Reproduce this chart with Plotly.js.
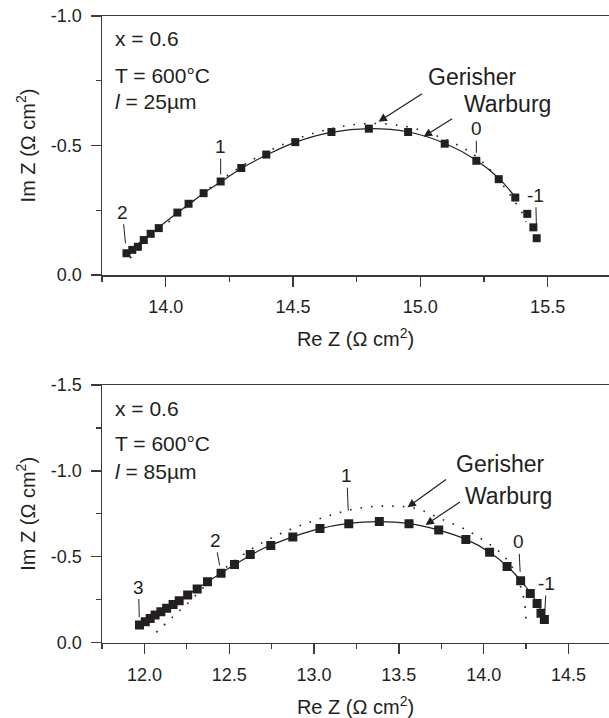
<!DOCTYPE html>
<html>
<head>
<meta charset="utf-8">
<script src="https://cdn.plot.ly/plotly-3.0.1.min.js"></script>
<style>html,body{margin:0;padding:0;background:#fff;overflow:hidden}#chart{width:609px;height:718px}</style>
</head>
<body>
<div id="chart"></div>
<script>
// ---------- Top panel (l = 25 µm) ----------
const topReZ = [13.846,13.869,13.891,13.914,13.941,13.973,14.046,14.090,14.149,14.216,14.297,14.395,14.509,14.651,14.798,14.952,15.096,15.220,15.308,15.373,15.420,15.444,15.457];
const topImZ = [-0.084,-0.097,-0.109,-0.135,-0.159,-0.181,-0.241,-0.275,-0.316,-0.361,-0.413,-0.465,-0.513,-0.552,-0.565,-0.552,-0.507,-0.441,-0.370,-0.299,-0.236,-0.184,-0.142];
const topWarburgX = [13.846,13.94,14.05,14.15,14.22,14.30,14.40,14.51,14.65,14.80,14.95,15.10,15.22,15.31,15.373];
const topWarburgY = [-0.084,-0.158,-0.243,-0.316,-0.362,-0.413,-0.465,-0.513,-0.551,-0.565,-0.553,-0.507,-0.443,-0.372,-0.300];
const topGerisherX = [13.86,13.95,14.05,14.20,14.35,14.50,14.65,14.80,14.95,15.07,15.16,15.22,15.28,15.33,15.37,15.40,15.415];
const topGerisherY = [-0.065,-0.148,-0.238,-0.355,-0.450,-0.520,-0.565,-0.585,-0.572,-0.535,-0.495,-0.458,-0.400,-0.340,-0.285,-0.240,-0.205];
const topFreqLabels = ['2','1','0','-1'];
const topFreqIdx = [0,9,17,22];

// ---------- Bottom panel (l = 85 µm) ----------
const botReZ = [11.971,12.005,12.034,12.063,12.097,12.131,12.169,12.205,12.255,12.311,12.372,12.452,12.531,12.624,12.745,12.875,13.035,13.205,13.385,13.560,13.735,13.895,14.035,14.138,14.218,14.275,14.315,14.338,14.358];
const botImZ = [-0.103,-0.122,-0.141,-0.161,-0.180,-0.200,-0.223,-0.244,-0.277,-0.312,-0.355,-0.404,-0.455,-0.514,-0.566,-0.615,-0.664,-0.693,-0.706,-0.693,-0.656,-0.601,-0.527,-0.444,-0.360,-0.287,-0.228,-0.171,-0.135];
const botWarburgX = [11.97,12.10,12.25,12.40,12.55,12.70,12.85,13.00,13.20,13.38,13.55,13.73,13.90,14.03,14.14,14.22,14.28,14.32,14.345,14.36];
const botWarburgY = [-0.100,-0.180,-0.275,-0.372,-0.465,-0.548,-0.607,-0.655,-0.694,-0.705,-0.695,-0.657,-0.600,-0.530,-0.445,-0.360,-0.285,-0.225,-0.170,-0.135];
const botGerisherX = [12.07,12.15,12.25,12.40,12.55,12.70,12.85,13.00,13.15,13.30,13.45,13.60,13.75,13.90,14.00,14.08,14.14,14.19,14.22,14.24,14.25];
const botGerisherY = [-0.060,-0.135,-0.225,-0.370,-0.490,-0.585,-0.655,-0.710,-0.758,-0.788,-0.795,-0.782,-0.720,-0.655,-0.595,-0.540,-0.480,-0.400,-0.320,-0.240,-0.130];
const botFreqLabels = ['3','2','1','0','-1'];
const botFreqIdx = [0,11,17,24,28];

// tick labels
const topXTicks = [14.0,14.5,15.0,15.5], topXTickText = ['14.0','14.5','15.0','15.5'];
const topYTicks = [-1.0,-0.5,0.0], topYTickText = ['-1.0','-0.5','0.0'];
const botXTicks = [12.0,12.5,13.0,13.5,14.0,14.5], botXTickText = ['12.0','12.5','13.0','13.5','14.0','14.5'];
const botYTicks = [-1.5,-1.0,-0.5,0.0], botYTickText = ['-1.5','-1.0','-0.5','0.0'];

// ---------- styling ----------
const INK = '#231f20', AX = '#3a3a3a';
const FONT = 'Liberation Sans, Arial, Helvetica, sans-serif';
const W = 609, H = 718;

function traces(xa, ya, rx, iz, wx, wy, gx, gy, msize) {
  return [
    {x: gx, y: gy, xaxis: xa, yaxis: ya, mode: 'lines', name: 'Gerisher',
     line: {color: INK, width: 1.6, dash: '1.6px,9px', shape: 'spline'}, showlegend: false},
    {x: wx, y: wy, xaxis: xa, yaxis: ya, mode: 'lines', name: 'Warburg',
     line: {color: INK, width: 1.2, shape: 'spline'}, showlegend: false},
    {x: rx, y: iz, xaxis: xa, yaxis: ya, mode: 'markers', name: 'data',
     marker: {symbol: 'square', size: msize, color: INK}, showlegend: false}
  ];
}

const data = [].concat(
  traces('x', 'y', topReZ, topImZ, topWarburgX, topWarburgY, topGerisherX, topGerisherY, 8),
  traces('x2', 'y2', botReZ, botImZ, botWarburgX, botWarburgY, botGerisherX, botGerisherY, 9)
);

function xAxis(dom, range, tv, tt, anchor) {
  return {domain: dom, range: range, anchor: anchor, tickmode: 'array', tickvals: tv, ticktext: tt,
    ticks: 'outside', ticklen: 10, tickwidth: 1.4, tickcolor: AX, ticklabelstandoff: 5,
    showline: true, linecolor: AX, linewidth: 1.5, mirror: true, showgrid: false, zeroline: false,
    minor: {dtick: 0.25, tick0: 0, ticks: 'outside', ticklen: 5, tickwidth: 1.2, tickcolor: AX, showgrid: false},
    tickfont: {family: FONT, size: 18, color: INK},
    title: {text: 'Re Z (Ω cm<sup>2</sup>)', font: {family: FONT, size: 20, color: INK}, standoff: 16}};
}
function yAxis(dom, range, tv, tt, anchor) {
  return {domain: dom, range: range, anchor: anchor, tickmode: 'array', tickvals: tv, ticktext: tt,
    ticks: 'outside', ticklen: 10, tickwidth: 1.4, tickcolor: AX, ticklabelstandoff: 5,
    showline: true, linecolor: AX, linewidth: 1.5, mirror: false, showgrid: false, zeroline: false,
    minor: {dtick: 0.25, tick0: 0, ticks: 'outside', ticklen: 5, tickwidth: 1.2, tickcolor: AX, showgrid: false},
    tickfont: {family: FONT, size: 18, color: INK},
    title: {text: 'Im Z (Ω cm<sup>2</sup>)', font: {family: FONT, size: 20, color: INK}, standoff: 10}};
}

const annotations = [];
function note(text, px, py, size) {
  annotations.push({text: text, xref: 'paper', yref: 'paper', x: px / W, y: 1 - py / H,
    xanchor: 'left', yanchor: 'middle', showarrow: false, font: {family: FONT, size: size, color: INK}});
}
function label(text, cx, cy, size) {
  annotations.push({text: text, xref: 'paper', yref: 'paper', x: cx / W, y: 1 - cy / H,
    xanchor: 'center', yanchor: 'middle', showarrow: false, font: {family: FONT, size: size, color: INK}});
}
function arrow(xr, yr, x, y, ax, ay) {
  annotations.push({text: '', xref: xr, yref: yr, x: x, y: y, ax: ax, ay: ay, showarrow: true,
    arrowhead: 2, arrowsize: 1.4, arrowwidth: 1.2, arrowcolor: INK, standoff: 0});
}
function freq(xr, yr, rx, iz, labels, idx, axs, ays, stand) {
  labels.forEach((t, k) => {
    const i = idx[k];
    annotations.push({text: t, xref: xr, yref: yr, x: rx[i], y: iz[i], ax: axs[k], ay: ays[k],
      showarrow: true, arrowhead: 0, arrowwidth: 1, arrowcolor: INK, standoff: stand[k],
      font: {family: FONT, size: 19, color: INK}});
  });
}

// top panel text
note('x = 0.6', 113, 39, 21);
note('T = 600°C', 113, 76, 21);
note('<i>l</i> = 25µm', 113, 102, 21);
label('Gerisher', 472, 77, 23);
label('Warburg', 507, 104, 23);
arrow('x', 'y', 14.836, -0.592, 45, -29);
arrow('x', 'y', 15.013, -0.534, 30, -19);
freq('x', 'y', topReZ, topImZ, topFreqLabels, topFreqIdx, [-4, 0, 0, -1], [-41, -35, -32, -43], [10, 7, 8, 8]);

// bottom panel text
note('x = 0.6', 113, 408, 21);
note('T = 600°C', 113, 443, 21);
note('<i>l</i> = 85µm', 113, 471, 21);
label('Gerisher', 500, 464, 23);
label('Warburg', 508, 496, 23);
arrow('x2', 'y2', 13.551, -0.788, 40, -29);
arrow('x2', 'y2', 13.657, -0.685, 36, -24);
freq('x2', 'y2', botReZ, botImZ, botFreqLabels, botFreqIdx, [-1, -6, -2, -2, 2], [-38, -33, -48, -39, -36], [8, 8, 13, 9, 9]);

const layout = {
  width: W, height: H, margin: {l: 0, r: 0, t: 0, b: 0},
  paper_bgcolor: '#fff', plot_bgcolor: '#fff', showlegend: false,
  font: {family: FONT, color: INK},
  xaxis: xAxis([102 / W, 1], [13.75, 15.741], topXTicks, topXTickText, 'y'),
  yaxis: yAxis([1 - 275 / H, 1 - 16 / H], [0, -1.0], topYTicks, topYTickText, 'x'),
  xaxis2: xAxis([102 / W, 1], [11.75, 14.739], botXTicks, botXTickText, 'y2'),
  yaxis2: yAxis([1 - 642.7 / H, 1 - 385 / H], [0, -1.5], botYTicks, botYTickText, 'x2'),
  annotations: annotations
};

Plotly.newPlot('chart', data, layout, {staticPlot: true, displayModeBar: false});
</script>
</body>
</html>
